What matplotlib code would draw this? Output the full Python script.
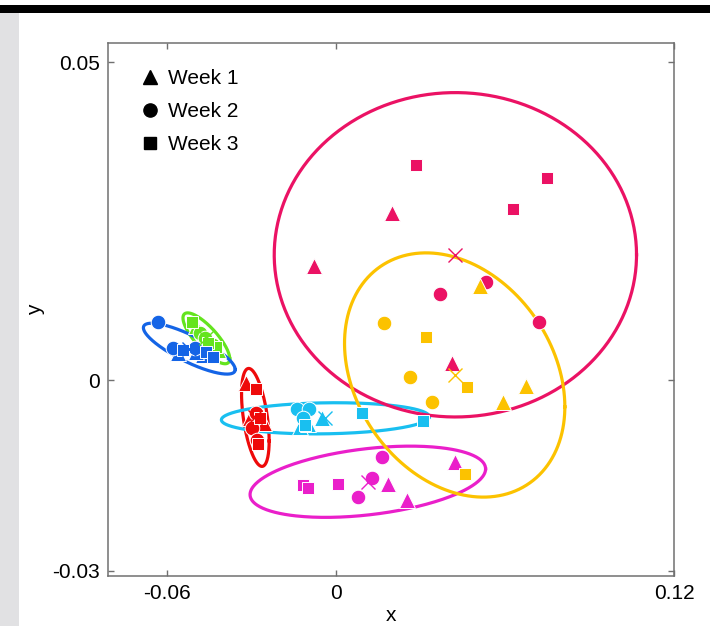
import numpy as np
import matplotlib
matplotlib.use('Agg')
import matplotlib.pyplot as plt
from matplotlib.lines import Line2D
from matplotlib.patches import Rectangle

plt.rcParams['font.family'] = ['Liberation Sans', 'DejaVu Sans']

# Group colours (one ellipse per group)
group_names = ['green', 'blue', 'red', 'cyan', 'magenta', 'crimson', 'yellow']
group_colors = ['#64e41e', '#1464e6', '#ee0a0a', '#19bff0', '#ea1fca', '#eb1264', '#fcc200']

# Points per group: week 1 (triangles), week 2 (circles), week 3 (squares)
week1_x = {
    'green':   [-0.0497, -0.0447, -0.0419],
    'blue':    [-0.0561, -0.0472, -0.0497],
    'red':     [-0.0320, -0.0256, -0.0305],
    'cyan':    [-0.0128, -0.0050, -0.0099],
    'magenta': [0.0185, 0.0252, 0.0422],
    'crimson': [0.0199, -0.0078, 0.0412],
    'yellow':  [0.0511, 0.0593, 0.0674],
}
week1_y = {
    'green':   [0.00849, 0.00629, 0.00472],
    'blue':    [0.00424, 0.00393, 0.00440],
    'red':     [-0.00047, -0.00676, -0.00597],
    'cyan':    [-0.00739, -0.00597, -0.00692],
    'magenta': [-0.01635, -0.01886, -0.01289],
    'crimson': [0.02625, 0.01792, 0.00267],
    'yellow':  [0.01478, -0.00346, -0.00094],
}
week2_x = {
    'green':   [-0.0483, -0.0437, -0.0465],
    'blue':    [-0.0632, -0.0579, -0.0501],
    'red':     [-0.0298, -0.0280, -0.0284],
    'cyan':    [-0.0138, -0.0096, -0.0117],
    'magenta': [0.0128, 0.0163, 0.0078],
    'crimson': [0.0532, 0.0369, 0.0721],
    'yellow':  [0.0170, 0.0263, 0.0341],
}
week2_y = {
    'green':   [0.00739, 0.00550, 0.00660],
    'blue':    [0.00912, 0.00503, 0.00503],
    'red':     [-0.00755, -0.00943, -0.00519],
    'cyan':    [-0.00456, -0.00456, -0.00597],
    'magenta': [-0.01541, -0.01210, -0.01839],
    'crimson': [0.01541, 0.01352, 0.00912],
    'yellow':  [0.00896, 0.00047, -0.00346],
}
week3_x = {
    'green':   [-0.0511, -0.0426, -0.0454],
    'blue':    [-0.0461, -0.0437, -0.0543],
    'red':     [-0.0284, -0.0270, -0.0277],
    'cyan':    [0.0092, 0.0309, -0.0110],
    'magenta': [-0.0117, -0.0099, 0.0007],
    'crimson': [0.0284, 0.0749, 0.0628],
    'yellow':  [0.0319, 0.0465, 0.0458],
}
week3_y = {
    'green':   [0.00912, 0.00519, 0.00582],
    'blue':    [0.00440, 0.00362, 0.00472],
    'red':     [-0.00141, -0.00597, -0.01006],
    'cyan':    [-0.00519, -0.00645, -0.00707],
    'magenta': [-0.01651, -0.01698, -0.01635],
    'crimson': [0.03380, 0.03175, 0.02688],
    'yellow':  [0.00676, -0.00110, -0.01478],
}

# Ellipse shape per group: half-width, half-height, correlation
ell_sx = {'green': 0.0083, 'blue': 0.0163, 'red': 0.0049, 'cyan': 0.0369,
          'magenta': 0.0418, 'crimson': 0.0643, 'yellow': 0.0391}
ell_sy = {'green': 0.0040, 'blue': 0.0040, 'red': 0.0077, 'cyan': 0.00245,
          'magenta': 0.0056, 'crimson': 0.0255, 'yellow': 0.0192}
ell_r = {'green': -0.80, 'blue': -0.82, 'red': -0.48, 'cyan': 0.10,
         'magenta': 0.36, 'crimson': 0.0, 'yellow': -0.26}

x_ticks = [-0.06, 0, 0.12]
y_ticks = [-0.03, 0, 0.05]
legend_labels = ['Week 1', 'Week 2', 'Week 3']

W, H = 710, 626
fig = plt.figure(figsize=(W / 100, H / 100), dpi=100)
# black bar on top and grey strip on the left, as in the page capture
fig.patches.append(Rectangle((0, 1 - 13 / H), 1, 8 / H, transform=fig.transFigure,
                             facecolor='black', edgecolor='none', zorder=0))
fig.patches.append(Rectangle((0, 0), 19 / W, 1 - 13 / H, transform=fig.transFigure,
                             facecolor='#e1e1e3', edgecolor='none', zorder=0))

ax = fig.add_axes([108 / W, 1 - 576 / H, (674 - 108) / W, (576 - 43) / H])

t = np.linspace(0, 2 * np.pi, 300)
for name, col in zip(group_names, group_colors):
    xs = np.array(week1_x[name] + week2_x[name] + week3_x[name])
    ys = np.array(week1_y[name] + week2_y[name] + week3_y[name])
    cx, cy = xs.mean(), ys.mean()
    r = ell_r[name]
    ex = cx + ell_sx[name] * np.cos(t)
    ey = cy + ell_sy[name] * (r * np.cos(t) + np.sqrt(1 - r ** 2) * np.sin(t))
    ax.plot(ex, ey, color=col, lw=2.3, zorder=2)

for name, col in zip(group_names, group_colors):
    xs = np.array(week1_x[name] + week2_x[name] + week3_x[name])
    ys = np.array(week1_y[name] + week2_y[name] + week3_y[name])
    ax.plot(week1_x[name], week1_y[name], '^', color=col, ms=11, mec='white', mew=0.7, zorder=3)
    ax.plot(week2_x[name], week2_y[name], 'o', color=col, ms=10.5, mec='white', mew=0.7, zorder=3)
    ax.plot(week3_x[name], week3_y[name], 's', color=col, ms=8.5, mec='white', mew=0.7, zorder=3)
    ax.plot(xs.mean(), ys.mean(), 'x', color=col, ms=10, mew=1.0, zorder=4)

ax.set_xlim(-0.0809, 0.12)
ax.set_ylim(-0.0308, 0.053)
ax.set_xticks(x_ticks)
ax.set_xticklabels(['-0.06', '0', '0.12'])
ax.set_yticks(y_ticks)
ax.set_yticklabels(['-0.03', '0', '0.05'])
ax.tick_params(direction='in', top=True, right=True, length=4.5, width=1,
               color='#707070', labelsize=15, pad=6)
for s in ax.spines.values():
    s.set_color('#707070')
    s.set_linewidth(1.1)
ax.set_xlabel('x', fontsize=15, labelpad=2)
ax.set_ylabel('y', fontsize=15, labelpad=5)

handles = [Line2D([], [], ls='none', marker=m, color='black', ms=ms)
           for m, ms in zip(['^', 'o', 's'], [10, 9.5, 8])]
ax.legend(handles, legend_labels, loc='upper left', bbox_to_anchor=(0.045, 0.966),
          frameon=False, fontsize=15, handlelength=0.8, handletextpad=0.45,
          labelspacing=0.66, borderaxespad=0)

fig.savefig('out.png', dpi=100)
